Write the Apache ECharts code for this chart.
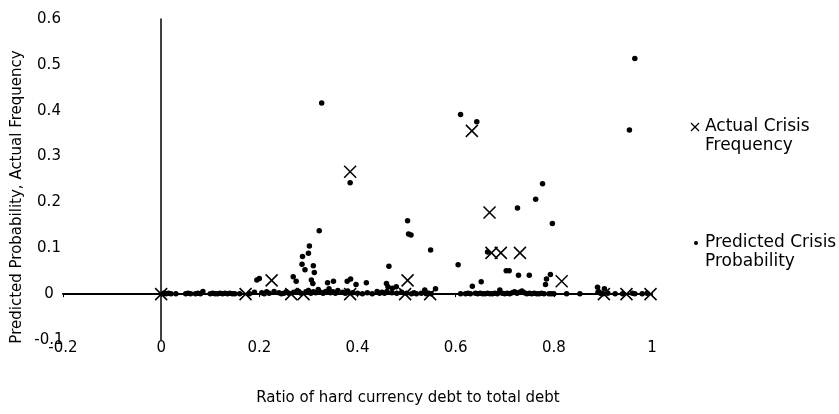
<!DOCTYPE html>
<html>
<head>
<meta charset="utf-8">
<script src="https://cdn.jsdelivr.net/npm/echarts@6/dist/echarts.min.js"></script>
<style>
  html, body { margin: 0; padding: 0; background: #fff; }
  #chart { width: 839px; height: 414px; }
</style>
</head>
<body>
<div id="chart"></div>
<script>
// Actual crisis frequency by hard-currency debt ratio: [ratio, frequency]
const actualFrequency = [
  [0.000, 0.000], [0.172, 0.000], [0.225, 0.030], [0.265, 0.000], [0.290, 0.000],
  [0.385, 0.267], [0.385, 0.000], [0.502, 0.030], [0.497, 0.000], [0.548, 0.000],
  [0.633, 0.356], [0.669, 0.178], [0.673, 0.090], [0.692, 0.090], [0.731, 0.090],
  [0.816, 0.028], [0.902, 0.000], [0.948, 0.000], [0.997, 0.000]
];

// Predicted crisis probabilities that stand clear of the zero line: [ratio, probability]
const predictedHigh = [
  [0.327, 0.417], [0.385, 0.243], [0.322, 0.138], [0.302, 0.105], [0.300, 0.089],
  [0.288, 0.082], [0.287, 0.065], [0.293, 0.053], [0.310, 0.062], [0.312, 0.047],
  [0.269, 0.038], [0.275, 0.028], [0.195, 0.031], [0.200, 0.034], [0.306, 0.031],
  [0.309, 0.023], [0.339, 0.025], [0.351, 0.028], [0.342, 0.012], [0.379, 0.028],
  [0.386, 0.033], [0.397, 0.021], [0.418, 0.025], [0.464, 0.061], [0.459, 0.023],
  [0.462, 0.016], [0.479, 0.016], [0.471, 0.013], [0.502, 0.160], [0.504, 0.131],
  [0.509, 0.129], [0.549, 0.096], [0.537, 0.009], [0.559, 0.012], [0.605, 0.064],
  [0.610, 0.392], [0.643, 0.376], [0.634, 0.017], [0.652, 0.027], [0.665, 0.092],
  [0.703, 0.051], [0.709, 0.051], [0.726, 0.188], [0.728, 0.041], [0.750, 0.041],
  [0.763, 0.207], [0.777, 0.241], [0.797, 0.154], [0.783, 0.021], [0.785, 0.033],
  [0.793, 0.043], [0.690, 0.009], [0.889, 0.015], [0.903, 0.012], [0.954, 0.358],
  [0.965, 0.514], [0.085, 0.006], [0.320, 0.010], [0.360, 0.008], [0.440, 0.006]
];

// Predicted crisis probabilities sitting on or just above zero: [ratio, probability]
const predictedLow = [
  [0.005, 0.002], [0.010, 0.001], [0.015, 0.002], [0.020, 0.001], [0.030, 0.001],
  [0.050, 0.001], [0.055, 0.002], [0.060, 0.001], [0.070, 0.001], [0.075, 0.002],
  [0.080, 0.001], [0.100, 0.001], [0.105, 0.002], [0.110, 0.001], [0.115, 0.001],
  [0.120, 0.002], [0.125, 0.001], [0.130, 0.002], [0.135, 0.001], [0.140, 0.002],
  [0.145, 0.001], [0.150, 0.001], [0.160, 0.001], [0.180, 0.001], [0.190, 0.004],
  [0.205, 0.003], [0.210, 0.001], [0.215, 0.005], [0.220, 0.002], [0.230, 0.006],
  [0.240, 0.003], [0.245, 0.001], [0.250, 0.002], [0.255, 0.005], [0.260, 0.002],
  [0.270, 0.004], [0.280, 0.006], [0.285, 0.002], [0.295, 0.005], [0.300, 0.008],
  [0.305, 0.002], [0.310, 0.005], [0.315, 0.003], [0.325, 0.004], [0.330, 0.002],
  [0.335, 0.006], [0.345, 0.003], [0.350, 0.005], [0.355, 0.002], [0.370, 0.004],
  [0.375, 0.002], [0.380, 0.007], [0.390, 0.003], [0.400, 0.002], [0.410, 0.001],
  [0.420, 0.003], [0.430, 0.001], [0.445, 0.002], [0.450, 0.004], [0.455, 0.002],
  [0.460, 0.006], [0.470, 0.003], [0.480, 0.002], [0.490, 0.004], [0.500, 0.002],
  [0.510, 0.001], [0.515, 0.003], [0.520, 0.001], [0.530, 0.002], [0.540, 0.001],
  [0.545, 0.002], [0.550, 0.001], [0.610, 0.001], [0.620, 0.001], [0.625, 0.002],
  [0.630, 0.001], [0.640, 0.002], [0.645, 0.001], [0.650, 0.002], [0.655, 0.001],
  [0.660, 0.001], [0.665, 0.002], [0.670, 0.001], [0.675, 0.001], [0.680, 0.002],
  [0.685, 0.001], [0.695, 0.002], [0.700, 0.001], [0.705, 0.002], [0.710, 0.001],
  [0.715, 0.003], [0.720, 0.005], [0.725, 0.002], [0.730, 0.004], [0.735, 0.007],
  [0.740, 0.003], [0.745, 0.001], [0.750, 0.002], [0.755, 0.001], [0.760, 0.002],
  [0.765, 0.001], [0.770, 0.001], [0.775, 0.002], [0.780, 0.001], [0.790, 0.001],
  [0.795, 0.001], [0.800, 0.001], [0.826, 0.001], [0.853, 0.001], [0.890, 0.004],
  [0.895, 0.002], [0.900, 0.001], [0.910, 0.002], [0.925, 0.001], [0.940, 0.001],
  [0.960, 0.002], [0.965, 0.001], [0.980, 0.001], [0.990, 0.002]
];

const xRange = { min: -0.2, max: 1, step: 0.2 };
const yRange = { min: -0.1, max: 0.6, step: 0.1 };

const FONT = '"DejaVu Sans", sans-serif';
const crossPath = 'path://M0,0L10,10M10,0L0,10';

const chart = echarts.init(document.getElementById('chart'), null, { renderer: 'canvas' });

chart.setOption({
  animation: false,
  backgroundColor: '#ffffff',
  grid: { left: 63, right: 187, top: 19, bottom: 74, containLabel: false },
  xAxis: [
    {
      // tick labels along the bottom edge
      type: 'value', position: 'bottom',
      min: xRange.min, max: xRange.max, interval: xRange.step,
      axisLine: { show: false, onZero: false },
      axisTick: { show: false },
      splitLine: { show: false },
      axisLabel: { color: '#000', fontFamily: FONT, fontSize: 15, margin: 1 }
    },
    {
      // horizontal axis line drawn through y = 0
      type: 'value', position: 'bottom',
      min: xRange.min, max: xRange.max, interval: xRange.step,
      axisLine: { show: true, onZero: true, lineStyle: { color: '#000', width: 2 } },
      axisTick: { show: true, length: 3, lineStyle: { color: '#000', width: 1 } },
      splitLine: { show: false },
      axisLabel: { show: false }
    }
  ],
  yAxis: [
    {
      type: 'value', position: 'left',
      min: yRange.min, max: yRange.max, interval: yRange.step,
      axisLine: { show: false, onZero: false },
      axisTick: { show: false },
      splitLine: { show: false },
      axisLabel: { color: '#000', fontFamily: FONT, fontSize: 15, margin: 14, align: 'center',
                   padding: [0, 0, 4, 0] }
    },
    {
      // vertical axis line drawn through x = 0
      type: 'value', position: 'left',
      min: yRange.min, max: yRange.max, interval: yRange.step,
      axisLine: { show: true, onZero: true, lineStyle: { color: '#000', width: 1.5 } },
      axisTick: { show: false },
      splitLine: { show: false },
      axisLabel: { show: false }
    }
  ],
  series: [
    {
      name: 'Predicted Crisis Probability',
      type: 'scatter', xAxisIndex: 0, yAxisIndex: 0,
      symbol: 'circle', symbolSize: 5.5,
      itemStyle: { color: '#000', opacity: 1 },
      data: predictedLow.concat(predictedHigh),
      z: 3
    },
    {
      name: 'Actual Crisis Frequency',
      type: 'scatter', xAxisIndex: 0, yAxisIndex: 0,
      symbol: crossPath, symbolSize: 12,
      itemStyle: { color: 'none', borderColor: '#000', borderWidth: 1.5, opacity: 1 },
      data: actualFrequency,
      z: 4
    }
  ],
  graphic: [
    {
      type: 'text', x: 408, y: 398,
      style: { text: 'Ratio of hard currency debt to total debt', font: '15px ' + FONT, fill: '#000',
               align: 'center', verticalAlign: 'middle' }
    },
    {
      type: 'text', x: 17, y: 197, rotation: Math.PI / 2,
      style: { text: 'Predicted Probability, Actual Frequency', font: '15px ' + FONT, fill: '#000',
               align: 'center', verticalAlign: 'middle' }
    },
    // legend: actual frequency
    {
      type: 'line', shape: { x1: 691, y1: 123, x2: 699, y2: 131 },
      style: { stroke: '#000', lineWidth: 1.2 }
    },
    {
      type: 'line', shape: { x1: 699, y1: 123, x2: 691, y2: 131 },
      style: { stroke: '#000', lineWidth: 1.2 }
    },
    {
      type: 'text', x: 705, y: 136,
      style: { text: 'Actual Crisis\nFrequency', font: '17px ' + FONT, fill: '#000',
               lineHeight: 19, verticalAlign: 'middle' }
    },
    // legend: predicted probability
    {
      type: 'circle', shape: { cx: 696, cy: 243, r: 2 }, style: { fill: '#000' }
    },
    {
      type: 'text', x: 705, y: 252,
      style: { text: 'Predicted Crisis\nProbability', font: '17px ' + FONT, fill: '#000',
               lineHeight: 19, verticalAlign: 'middle' }
    }
  ]
});
</script>
</body>
</html>
